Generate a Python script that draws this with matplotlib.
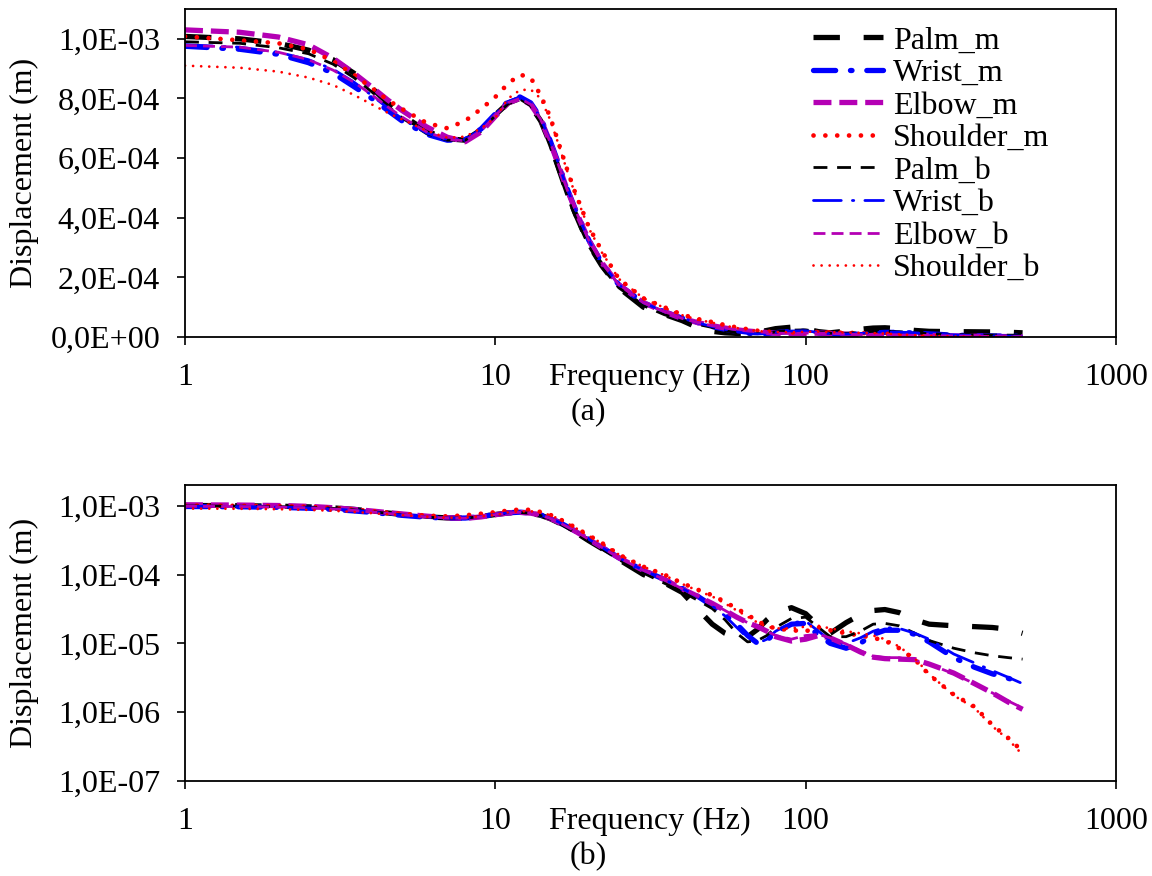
import matplotlib
matplotlib.use("Agg")
import matplotlib.pyplot as plt
from matplotlib.ticker import FixedLocator, FuncFormatter, NullLocator
import numpy as np

# frequency (Hz)
freq = [1, 1.5, 2, 2.5, 3, 3.5, 4, 4.5, 5, 6, 7, 8, 9, 10, 11, 12, 13, 14, 15, 16,
        17, 18, 20, 22, 25, 30, 35, 40, 45, 50, 55, 60, 65, 70, 75, 80, 90, 100, 110, 120,
        135, 150, 165, 180, 200, 225, 250, 300, 350, 400, 450, 500]

# displacement in micrometres
palm_m = [1008, 1000, 985, 962, 930, 885, 835, 785, 745, 690, 665, 660, 695, 745, 785, 800, 775, 725, 650, 565,
          485, 420, 310, 240, 165, 100, 76, 55, 31, 19, 14, 12, 12.5, 16, 22, 28, 33, 27, 18, 14,
          20, 26, 30, 31, 28, 22, 19, 18, 17.5, 17, 16, 14]
wrist_m = [975, 965, 948, 920, 885, 840, 800, 760, 725, 680, 660, 662, 698, 748, 790, 805, 785, 735, 660, 580,
           500, 435, 325, 250, 175, 115, 85, 63, 48, 35, 26, 19, 13, 10, 11, 14.5, 19, 19.5, 13, 10,
           8.5, 10, 13.5, 15.5, 15.5, 13.5, 10.5, 6.2, 4.5, 3.6, 3.1, 2.7]
elbow_m = [1030, 1022, 1006, 980, 935, 885, 838, 795, 760, 705, 670, 655, 688, 740, 785, 800, 780, 730, 655, 575,
           497, 432, 325, 250, 175, 115, 85, 62, 48, 38, 30, 24, 20, 17.5, 15, 12.5, 10.8, 11.5, 13, 12,
           9.5, 7.5, 6.3, 6.0, 5.9, 5.8, 5.0, 3.7, 2.6, 1.9, 1.4, 1.1]
shoulder_m = [1008, 995, 985, 965, 925, 880, 835, 795, 765, 718, 700, 725, 765, 805, 850, 880, 870, 810, 740, 650,
              565, 490, 370, 290, 195, 130, 100, 75, 60, 50, 40, 32, 26, 21, 18, 16.5, 15.5, 15, 17, 15.5,
              14, 13, 12, 11, 8.5, 5.8, 3.5, 1.8, 1.2, 0.65, 0.42, 0.27]
palm_b = [990, 985, 970, 950, 915, 870, 822, 775, 735, 682, 660, 660, 695, 742, 782, 798, 775, 720, 640, 555,
          475, 410, 305, 235, 165, 105, 75, 56, 42, 32, 22, 14, 10.5, 11, 13, 17, 23, 24, 17, 12.5,
          12.5, 15, 19, 19.5, 18, 14, 11, 8.5, 7.3, 6.6, 6.2, 5.9]
wrist_b = [980, 972, 955, 930, 898, 855, 810, 768, 732, 684, 662, 662, 698, 748, 790, 805, 785, 735, 660, 580,
           500, 435, 325, 250, 175, 115, 85, 63, 47, 35, 25, 17, 12, 10, 11.5, 15, 20, 21, 15, 11,
           10, 12, 15, 17, 16.5, 14, 11.5, 7.0, 5.2, 4.0, 3.2, 2.6]
elbow_b = [978, 972, 955, 930, 895, 855, 812, 772, 738, 688, 663, 658, 692, 742, 786, 800, 780, 730, 655, 575,
           497, 432, 325, 250, 175, 115, 85, 62, 48, 38, 30, 24, 20, 17.5, 15, 13, 11.5, 13, 13.5, 12,
           9.8, 7.8, 6.5, 6.2, 6.2, 5.7, 5.0, 3.6, 2.6, 1.9, 1.45, 1.15]
shoulder_b = [910, 903, 890, 870, 845, 812, 780, 752, 730, 692, 668, 672, 700, 735, 800, 828, 830, 800, 730, 645,
              560, 485, 365, 285, 195, 130, 98, 73, 58, 48, 38, 30, 24.5, 20, 17.5, 16.5, 16.5, 17.5, 18, 16.5,
              15, 14, 13, 11.5, 9, 6, 3.6, 1.75, 1.15, 0.62, 0.4, 0.24]

labels = ["Palm_m", "Wrist_m", "Elbow_m", "Shoulder_m", "Palm_b", "Wrist_b", "Elbow_b", "Shoulder_b"]
series = [palm_m, wrist_m, elbow_m, shoulder_m, palm_b, wrist_b, elbow_b, shoulder_b]

mag = "#B400B4"
styles = [
    dict(color="black", lw=3.8, dashes=(5, 4.5)),
    dict(color="blue", lw=3.8, dashes=(4.2, 2.8, 0.3, 2.8), dash_capstyle="round"),
    dict(color=mag, lw=3.8, dashes=(3.4, 1.5)),
    dict(color="red", lw=3.4, dashes=(0.01, 2.5), dash_capstyle="round"),
    dict(color="black", lw=2.0, dashes=(5, 3.5)),
    dict(color="blue", lw=2.0, dashes=(10, 4, 0.5, 4), dash_capstyle="round"),
    dict(color=mag, lw=2.0, dashes=(4.3, 2.2)),
    dict(color="red", lw=2.0, dashes=(0.01, 2.9), dash_capstyle="round"),
]

plt.rcParams["font.family"] = ["Liberation Serif", "DejaVu Serif"]
plt.rcParams["font.size"] = 23


def sci_comma(v, pos=None):
    if v == 0:
        return "0,0E+00"
    e = int(np.floor(np.log10(abs(v)) + 1e-9))
    m = v / 10 ** e
    return f"{m:.1f}".replace(".", ",") + "E" + ("+" if e >= 0 else "-") + f"{abs(e):02d}"


fig = plt.figure(figsize=(11.52, 8.76), dpi=100)
ax1 = fig.add_axes([185 / 1152, 1 - 337 / 876, 931 / 1152, 328 / 876])
ax2 = fig.add_axes([185 / 1152, 1 - 781 / 876, 931 / 1152, 296 / 876])

f = np.array(freq)
for ax in (ax1, ax2):
    for vals, lab, st in zip(series, labels, styles):
        ax.plot(f, np.array(vals) * 1e-6, label=lab, **st)
    ax.set_xscale("log")
    ax.set_xlim(1, 1000)
    ax.xaxis.set_major_locator(FixedLocator([1, 10, 100, 1000]))
    ax.xaxis.set_major_formatter(FuncFormatter(lambda v, p: f"{v:g}"))
    ax.xaxis.set_minor_locator(NullLocator())
    ax.tick_params(axis="x", direction="out", length=6, width=1.2, pad=13)
    ax.tick_params(axis="y", direction="out", length=6, width=1.2, pad=12)
    for s in ax.spines.values():
        s.set_linewidth(1.3)
    ax.set_ylabel("Displacement (m)")
    ax.yaxis.set_label_coords(-0.157, 0.5)
    ax.annotate("Frequency (Hz)", xy=(0.4995, 0), xycoords="axes fraction",
                xytext=(0, -19), textcoords="offset points", ha="center", va="top")

ax1.set_ylim(0, 1.1e-3)
ax1.yaxis.set_major_locator(FixedLocator(np.arange(0, 1.05e-3, 2e-4)))
ax1.yaxis.set_major_formatter(FuncFormatter(sci_comma))

ax2.set_yscale("log")
ax2.set_ylim(1e-7, 2e-3)
ax2.yaxis.set_major_locator(FixedLocator([1e-7, 1e-6, 1e-5, 1e-4, 1e-3]))
ax2.yaxis.set_major_formatter(FuncFormatter(sci_comma))
ax2.yaxis.set_minor_locator(NullLocator())

ax1.legend(loc="upper left", bbox_to_anchor=(813 / 1152, 1 - 26 / 876), bbox_transform=fig.transFigure,
           frameon=False, borderpad=0, borderaxespad=0, handlelength=2.2, handletextpad=0.3,
           labelspacing=0.1, fontsize=23)

fig.text(588 / 1152, 1 - 412 / 876, "(a)", ha="center", va="center")
fig.text(588 / 1152, 1 - 857 / 876, "(b)", ha="center", va="center")

fig.savefig("out.png", dpi=100)
